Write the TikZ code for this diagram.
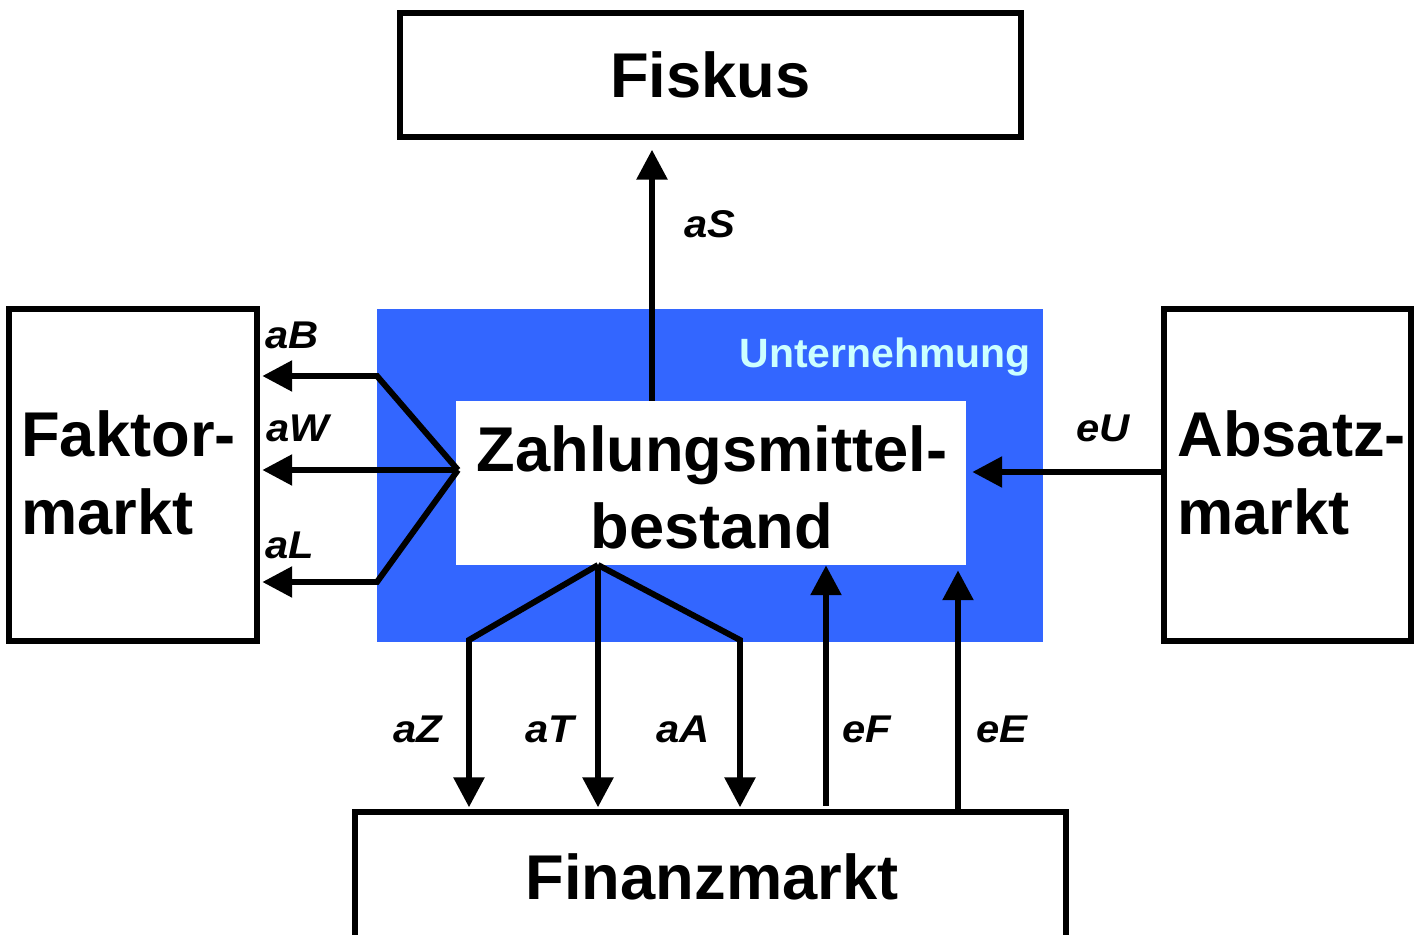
\documentclass[tikz,border=0pt]{standalone}
\usepackage{fontspec}
\usepackage{graphicx}
\setmainfont{Liberation Sans}
\usetikzlibrary{arrows.meta}
\definecolor{untblue}{HTML}{3366FF}
\definecolor{untcyan}{HTML}{CCFFFF}
\begin{document}
\begin{tikzpicture}[x=0.02cm,y=-0.02cm,
  box/.style={draw=black,line width=3.1pt,fill=white,inner sep=0pt},
  big/.style={font=\fontsize{36}{43}\selectfont\bfseries,inner sep=0pt},
  lab/.style={font=\fontsize{22}{26}\selectfont\bfseries\itshape,inner sep=0pt},
  conn/.style={line width=3.4pt},
  arr/.style={conn,-{Triangle[length=17pt,width=17pt]}}]
\useasboundingbox (0,0) rectangle (1417,935);
\clip (0,0) rectangle (1417,935);

% boxes
\node[box,big,minimum width=12.42cm,minimum height=2.48cm] (fiskus) at (710.5,75) {Fiskus};
\node[box,minimum width=4.96cm,minimum height=6.64cm] (faktor) at (133,475) {};
\node[box,minimum width=4.94cm,minimum height=6.64cm] (absatz) at (1287.5,475) {};
\node[box,minimum width=14.22cm,minimum height=3.52cm] (finanz) at (710.5,900) {};
\node[fill=untblue,inner sep=0pt,minimum width=13.32cm,minimum height=6.66cm] (unt) at (710,475.5) {};
\node[fill=white,inner sep=0pt,minimum width=10.2cm,minimum height=3.28cm] (zms) at (711,483) {};

% texts
\node[big,anchor=base west] (faktor1) at (21,457) {Faktor-};
\node[big,anchor=base west] (faktor2) at (21,535) {markt};
\node[big,anchor=base west] (absatz1) at (1177,457) {Absatz-};
\node[big,anchor=base west] (absatz2) at (1177,535) {markt};
\node[big,anchor=base] (zms1) at (712,472) {Zahlungsmittel-};
\node[big,anchor=base] (zms2) at (712,549) {bestand};
\node[big] (finanztxt) at (712,877) {Finanzmarkt};
\node[font=\fontsize{23.3}{28}\selectfont\bfseries,text=untcyan,anchor=base east,inner sep=0pt] (unttxt) at (1031,368) {Unternehmung};

% coordinates
\coordinate (sx) at (652,0);
\coordinate (lB) at (377,376);
\coordinate (lL) at (377,582);
\coordinate (fanL) at (458,470);
\coordinate (fanB) at (598,565);
\coordinate (bZ) at (469,640);
\coordinate (bA) at (740,640);
\coordinate (eFx) at (826,0);
\coordinate (eEx) at (958,0);
\coordinate (eUy) at (0,472);

% connectors
\draw[arr,shorten >=0.2cm] (sx |- zms.north) -- (sx |- fiskus.south);
\draw[arr,shorten >=1.5pt] (fanL) -- (lB) -- (lB -| faktor.east);
\draw[arr,shorten >=1.5pt] (fanL) -- (fanL -| faktor.east);
\draw[arr,shorten >=1.5pt] (fanL) -- (lL) -- (lL -| faktor.east);
\draw[arr,shorten >=0.12cm] (absatz.west |- eUy) -- (zms.east |- eUy);
\draw[arr,shorten >=0.04cm] (fanB) -- (bZ) -- (bZ |- finanz.north);
\draw[arr,shorten >=0.04cm] (fanB) -- (fanB |- finanz.north);
\draw[arr,shorten >=0.04cm] (fanB) -- (bA) -- (bA |- finanz.north);
\draw[arr,shorten <=0.07cm] (eFx |- finanz.north) -- (eFx |- zms.south);
\draw[arr,shorten >=0.1cm] (eEx |- finanz.north) -- (eEx |- zms.south);

% labels
\node[lab] (laS) at (710,224) {\scalebox{1.08}[1]{aS}};
\node[lab] (laB) at (292,335) {\scalebox{1.08}[1]{aB}};
\node[lab] (laW) at (298,428) {\scalebox{1.08}[1]{aW}};
\node[lab] (laL) at (290,545) {\scalebox{1.08}[1]{aL}};
\node[lab] (leU) at (1103,428) {\scalebox{1.08}[1]{eU}};
\node[lab] (laZ) at (418,729) {\scalebox{1.08}[1]{aZ}};
\node[lab] (laT) at (550,729) {\scalebox{1.08}[1]{aT}};
\node[lab] (laA) at (683,729) {\scalebox{1.08}[1]{aA}};
\node[lab] (leF) at (867,729) {\scalebox{1.08}[1]{eF}};
\node[lab] (leE) at (1002,729) {\scalebox{1.08}[1]{eE}};
\end{tikzpicture}
\end{document}
